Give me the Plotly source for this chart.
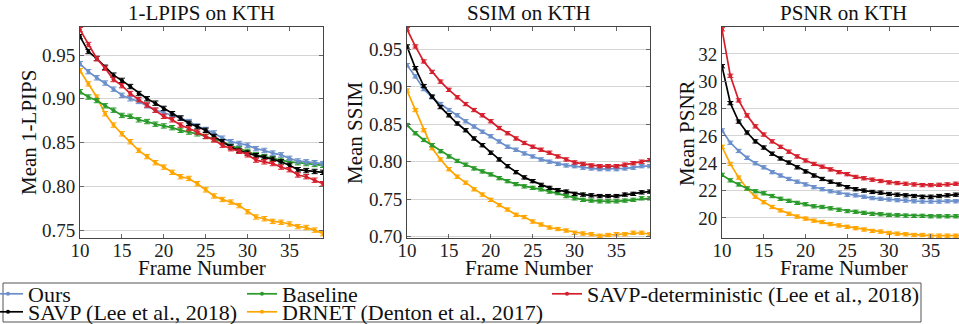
import plotly.graph_objects as go

W, H = 959, 324

frames = list(range(10, 40))

series_names = ["Ours", "Baseline", "SAVP-deterministic (Lee et al., 2018)",
                "SAVP (Lee et al., 2018)", "DRNET (Denton et al., 2017)"]
series_colors = ["#6b8fcb", "#2a9a2a", "#d61f2c", "#000000", "#ffa500"]

lpips_ours = [0.940, 0.931, 0.924, 0.918, 0.911, 0.904, 0.900, 0.897, 0.892, 0.887,
              0.884, 0.881, 0.878, 0.874, 0.869, 0.865, 0.861, 0.855, 0.851, 0.849,
              0.847, 0.843, 0.841, 0.838, 0.836, 0.832, 0.829, 0.828, 0.827, 0.826]
lpips_baseline = [0.908, 0.902, 0.898, 0.892, 0.887, 0.881, 0.880, 0.876, 0.874, 0.871,
                  0.869, 0.867, 0.864, 0.862, 0.860, 0.857, 0.854, 0.851, 0.847, 0.843,
                  0.840, 0.836, 0.834, 0.832, 0.830, 0.828, 0.827, 0.826, 0.825, 0.824]
lpips_savp_det = [0.979, 0.962, 0.946, 0.935, 0.922, 0.915, 0.906, 0.899, 0.893, 0.887,
                  0.880, 0.876, 0.870, 0.866, 0.862, 0.857, 0.853, 0.847, 0.843, 0.840,
                  0.836, 0.830, 0.828, 0.826, 0.822, 0.819, 0.813, 0.811, 0.807, 0.803]
lpips_savp = [0.971, 0.954, 0.946, 0.936, 0.927, 0.921, 0.914, 0.906, 0.900, 0.895,
              0.889, 0.883, 0.878, 0.872, 0.868, 0.864, 0.857, 0.851, 0.845, 0.841,
              0.838, 0.835, 0.833, 0.831, 0.828, 0.824, 0.819, 0.818, 0.817, 0.816]
lpips_drnet = [0.932, 0.917, 0.902, 0.883, 0.870, 0.860, 0.851, 0.841, 0.834, 0.827,
               0.822, 0.816, 0.811, 0.809, 0.803, 0.796, 0.789, 0.785, 0.782, 0.778,
               0.771, 0.765, 0.763, 0.760, 0.759, 0.757, 0.754, 0.753, 0.750, 0.746]

ssim_ours = [0.929, 0.914, 0.897, 0.886, 0.877, 0.869, 0.862, 0.854, 0.847, 0.840,
             0.834, 0.827, 0.820, 0.816, 0.811, 0.807, 0.803, 0.800, 0.797, 0.795,
             0.794, 0.792, 0.791, 0.790, 0.790, 0.790, 0.791, 0.792, 0.794, 0.794]
ssim_baseline = [0.849, 0.838, 0.829, 0.822, 0.814, 0.807, 0.801, 0.796, 0.791, 0.787,
                 0.783, 0.778, 0.774, 0.770, 0.767, 0.765, 0.763, 0.760, 0.758, 0.754,
                 0.751, 0.749, 0.748, 0.747, 0.747, 0.747, 0.748, 0.749, 0.751, 0.751]
ssim_savp_det = [0.977, 0.954, 0.934, 0.920, 0.907, 0.896, 0.886, 0.877, 0.869, 0.862,
                 0.854, 0.845, 0.838, 0.831, 0.825, 0.820, 0.816, 0.812, 0.807, 0.803,
                 0.799, 0.797, 0.795, 0.794, 0.794, 0.794, 0.796, 0.798, 0.800, 0.802]
ssim_savp = [0.954, 0.925, 0.901, 0.887, 0.873, 0.862, 0.851, 0.842, 0.831, 0.822,
             0.812, 0.803, 0.794, 0.786, 0.779, 0.774, 0.769, 0.765, 0.762, 0.760,
             0.757, 0.756, 0.755, 0.754, 0.754, 0.754, 0.756, 0.757, 0.759, 0.760]
ssim_drnet = [0.895, 0.869, 0.842, 0.818, 0.803, 0.790, 0.780, 0.772, 0.763, 0.756,
              0.749, 0.742, 0.736, 0.729, 0.726, 0.720, 0.716, 0.712, 0.710, 0.708,
              0.705, 0.704, 0.703, 0.701, 0.702, 0.703, 0.703, 0.705, 0.705, 0.703]

psnr_ours = [26.4, 25.5, 24.9, 24.4, 24.0, 23.7, 23.35, 23.1, 22.85, 22.65,
             22.45, 22.25, 22.1, 21.95, 21.85, 21.7, 21.65, 21.55, 21.45, 21.4,
             21.35, 21.3, 21.27, 21.22, 21.2, 21.2, 21.2, 21.22, 21.22, 21.25]
psnr_baseline = [23.15, 22.75, 22.45, 22.15, 21.95, 21.8, 21.6, 21.4, 21.25, 21.1,
                 21.0, 20.85, 20.8, 20.7, 20.6, 20.5, 20.45, 20.37, 20.3, 20.27,
                 20.22, 20.2, 20.17, 20.15, 20.15, 20.12, 20.12, 20.12, 20.12, 20.12]
psnr_savp_det = [33.8, 30.4, 28.6, 27.5, 26.7, 26.1, 25.6, 25.2, 24.85, 24.5,
                 24.2, 23.95, 23.75, 23.55, 23.35, 23.2, 23.0, 22.9, 22.8, 22.7,
                 22.6, 22.55, 22.5, 22.45, 22.4, 22.4, 22.42, 22.45, 22.5, 22.52]
psnr_savp = [31.1, 28.4, 27.05, 26.25, 25.6, 25.15, 24.7, 24.35, 24.05, 23.7,
             23.4, 23.1, 22.85, 22.65, 22.45, 22.25, 22.1, 22.0, 21.9, 21.85,
             21.75, 21.7, 21.65, 21.6, 21.55, 21.55, 21.6, 21.65, 21.7, 21.75]
psnr_drnet = [25.2, 23.95, 22.95, 22.15, 21.55, 21.15, 20.8, 20.55, 20.3, 20.1,
              19.95, 19.8, 19.7, 19.55, 19.45, 19.35, 19.25, 19.15, 19.05, 19.0,
              18.9, 18.85, 18.8, 18.75, 18.75, 18.7, 18.7, 18.7, 18.7, 18.7]

lpips_err = 0.0025
ssim_err = 0.0022
psnr_err = 0.12

panel_titles = ["1-LPIPS on KTH", "SSIM on KTH", "PSNR on KTH"]
y_titles = ["Mean 1-LPIPS", "Mean SSIM", "Mean PSNR"]
x_title = "Frame Number"
x_ticks = [10, 15, 20, 25, 30, 35]

panels = [
    ([lpips_ours, lpips_baseline, lpips_savp_det, lpips_savp, lpips_drnet], lpips_err),
    ([ssim_ours, ssim_baseline, ssim_savp_det, ssim_savp, ssim_drnet], ssim_err),
    ([psnr_ours, psnr_baseline, psnr_savp_det, psnr_savp, psnr_drnet], psnr_err),
]

FONT = "Liberation Serif"

# pixel layout
px_x = [(80, 323), (407, 650), (722, 959)]
px_top, px_bot = 27, 238
x_ranges = [[10, 39], [10, 39], [10, 10 + (959 - 722) / 8.35]]
y_ranges = [[0.741, 0.982], [0.698, 0.980], [18.53, 33.97]]
y_dticks = [0.05, 0.05, 2]
y_formats = [".2f", ".2f", "d"]
ytitle_cx = [29, 355, 687]

legend_ids = ["legend", "legend3", "legend5", "legend2", "legend4"]
draw_order = [4, 1, 0, 3, 2]

fig = go.Figure()
for p, (vals, err) in enumerate(panels):
    xa = "x" if p == 0 else f"x{p+1}"
    ya = "y" if p == 0 else f"y{p+1}"
    for s in draw_order:
        fig.add_trace(go.Scatter(
            x=frames, y=vals[s], xaxis=xa, yaxis=ya,
            mode="lines+markers", name=series_names[s],
            line=dict(color=series_colors[s], width=1.7),
            marker=dict(color=series_colors[s], size=4, symbol="circle"),
            error_y=dict(type="constant", value=err, color=series_colors[s],
                         thickness=1, width=3),
            showlegend=(p == 0), legend=legend_ids[s], cliponaxis=True,
        ))

layout = dict(
    width=W, height=H, margin=dict(l=0, r=0, t=0, b=0, autoexpand=False),
    paper_bgcolor="white", plot_bgcolor="white",
    font=dict(family=FONT, color="#111111"),
    showlegend=True,
)

for p in range(3):
    xk = "xaxis" if p == 0 else f"xaxis{p+1}"
    yk = "yaxis" if p == 0 else f"yaxis{p+1}"
    ya = "y" if p == 0 else f"y{p+1}"
    xa = "x" if p == 0 else f"x{p+1}"
    layout[xk] = dict(
        domain=[px_x[p][0] / W, px_x[p][1] / W], anchor=ya, range=x_ranges[p],
        tickvals=x_ticks, ticks="inside", ticklen=4, tickcolor="#666666",
        showline=True, linecolor="#444444", linewidth=1, mirror="allticks",
        showgrid=False, zeroline=False, automargin=False, ticklabelstandoff=-5,
        tickfont=dict(size=19, family=FONT, color="#222222"),
    )
    layout[yk] = dict(
        domain=[1 - px_bot / H, 1 - px_top / H], anchor=xa, range=y_ranges[p],
        dtick=y_dticks[p], tick0=0, tickformat=y_formats[p],
        ticks="inside", ticklen=4, tickcolor="#666666",
        showline=True, linecolor="#444444", linewidth=1,
        mirror=("allticks" if p < 2 else False),
        showgrid=True, gridcolor="#d4d4d4", gridwidth=1, zeroline=False, automargin=False,
        tickfont=dict(size=19, family=FONT, color="#222222"),
    )

annotations = []
for p in range(3):
    cx = (px_x[p][0] + 121.5) / W
    annotations.append(dict(
        text=panel_titles[p], x=cx, y=1 - 13 / H, xref="paper", yref="paper",
        xanchor="center", yanchor="middle", showarrow=False,
        font=dict(size=21, family=FONT, color="#111111"),
    ))
    annotations.append(dict(
        text=x_title, x=cx, y=1 - 268 / H, xref="paper", yref="paper",
        xanchor="center", yanchor="middle", showarrow=False,
        font=dict(size=21, family=FONT, color="#111111"),
    ))
    annotations.append(dict(
        text=y_titles[p], x=ytitle_cx[p] / W, y=1 - 133 / H, xref="paper", yref="paper",
        xanchor="center", yanchor="middle", showarrow=False, textangle=-90,
        font=dict(size=21, family=FONT, color="#111111"),
    ))
layout["annotations"] = annotations

leg_text_x = {"legend": 28, "legend2": 28, "legend3": 282, "legend4": 282, "legend5": 587}
leg_row_y = {"legend": 294, "legend3": 294, "legend5": 294, "legend2": 312, "legend4": 312}
for lid in leg_text_x:
    layout[lid] = dict(
        x=(leg_text_x[lid] - 40) / W, xanchor="left",
        y=1 - leg_row_y[lid] / H, yanchor="middle",
        orientation="v", bgcolor="rgba(0,0,0,0)", borderwidth=0,
        font=dict(size=22, family=FONT, color="#111111"),
        itemwidth=30,
    )

layout["shapes"] = [dict(
    type="rect", xref="paper", yref="paper",
    x0=3 / W, x1=921 / W, y0=1 - 322 / H, y1=1 - 283 / H,
    line=dict(color="#555555", width=1), fillcolor="rgba(0,0,0,0)", layer="below",
)]

fig.update_layout(**layout)
fig.write_html("out.html", config={"displayModeBar": False},
               post_script="document.body.style.margin='0';")
